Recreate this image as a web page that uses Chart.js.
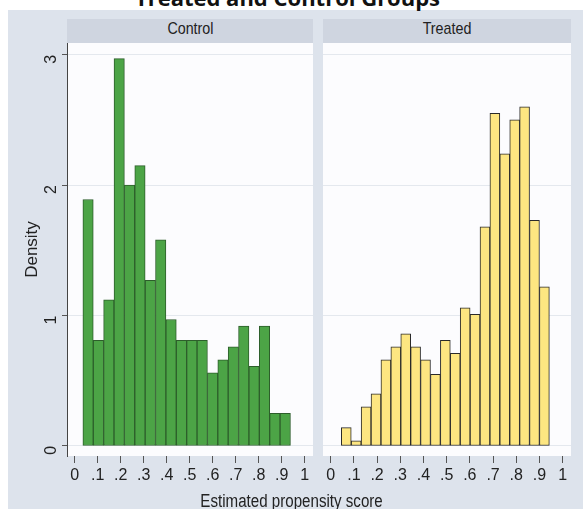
<!DOCTYPE html>
<html>
<head>
<meta charset="utf-8">
<script src="https://cdn.jsdelivr.net/npm/chart.js@4"></script>
<style>
  html, body { margin: 0; padding: 0; background: #ffffff; }
  #page { position: relative; width: 583px; height: 509px; overflow: hidden; }
  #bg { position: absolute; left: 8px; top: 10px; width: 575px; height: 499px; background: #dde3ec; }
  #title { position: absolute; left: 0; top: -18px; width: 575px; text-align: center;
           font: bold 22px "Open Sans", "Liberation Sans", sans-serif; color: #111; }
  .strip { position: absolute; top: 19px; height: 24px; line-height: 24px; background: #cfd5e0;
           text-align: center; font: 17px "Liberation Sans", sans-serif; color: #222; }
  .strip span, #xtitle span { display: inline-block; transform: scaleX(0.84); }
  canvas { position: absolute; top: 43px; }
  #xtitle { position: absolute; left: 0; width: 583px; top: 491px; text-align: center;
            font: 18px "Liberation Sans", sans-serif; color: #222; }
</style>
</head>
<body>
<div id="page">
  <div id="bg"></div>
  <div id="title">Treated and Control Groups</div>
  <div class="strip" id="stripCtl" style="left:67px;width:246px;"><span>Control</span></div>
  <div class="strip" id="stripTrt" style="left:323px;width:248px;"><span>Treated</span></div>
  <canvas id="ctl" width="318" height="460" style="left:0px;"></canvas>
  <canvas id="trt" width="265" height="460" style="left:318px;"></canvas>
  <div id="xtitle"><span>Estimated propensity score</span></div>
</div>
<script>
/* ---------------- DATA ---------------- */
// histogram bins: first edge + width, one height (density) per bin
const CONTROL_BIN_START = 0.036;
const CONTROL_BIN_WIDTH = 0.0451;
const controlDensity = [1.89, 0.81, 1.12, 2.97, 2.00, 2.15, 1.27, 1.58, 0.97, 0.81,
                        0.81, 0.81, 0.56, 0.66, 0.76, 0.92, 0.61, 0.92, 0.25, 0.25];

const TREATED_BIN_START = 0.046;
const TREATED_BIN_WIDTH = 0.0427;
const treatedDensity = [0.14, 0.04, 0.30, 0.40, 0.66, 0.76, 0.86, 0.76, 0.66, 0.55, 0.81,
                        0.71, 1.06, 1.01, 1.68, 2.55, 2.24, 2.50, 2.60, 1.73, 1.22];

const xTicks = [0, 0.1, 0.2, 0.3, 0.4, 0.5, 0.6, 0.7, 0.8, 0.9, 1];
const xTickLabels = ["0", ".1", ".2", ".3", ".4", ".5", ".6", ".7", ".8", ".9", "1"];
const yTicks = [0, 1, 2, 3];
const yTickLabels = ["0", "1", "2", "3"];
/* -------------------------------------- */

const X_MIN = -0.033, X_MAX = 1.036;
const Y_MIN = -0.077, Y_MAX = 3.09;
const FONT = { family: '"Liberation Sans", sans-serif', size: 16 };
const TEXT = '#222';

Chart.defaults.animation = false;

function binPoints(start, width, heights){
    return heights.map((h, i) => ({ x: start + (i + 0.5) * width, y: h }));
}

// keep the plot box fixed: no extra room for overhanging tick labels
function noPad(s){
    s.paddingLeft = 0; s.paddingRight = 0; s.paddingTop = 0; s.paddingBottom = 0;
}

// white plot region behind the bars
const plotBg = {
    id: 'plotBg',
    beforeDraw(chart){
        const a = chart.chartArea, ctx = chart.ctx;
        ctx.save();
        ctx.fillStyle = '#fcfcfe';
        ctx.fillRect(a.left, a.top, a.right - a.left, a.bottom - a.top);
        ctx.restore();
    }
};

function makeHist(canvasId, points, fill, border, showY, padLeft, padRight){
    return new Chart(document.getElementById(canvasId), {
        type: 'bar',
        data: {
            datasets: [{
                data: points,
                backgroundColor: fill,
                borderColor: border,
                borderWidth: 1,
                borderSkipped: false,
                barPercentage: 1,
                categoryPercentage: 1,
                grouped: false
            }]
        },
        options: {
            responsive: false,
            devicePixelRatio: 1,
            layout: { padding: { left: padLeft, right: padRight, top: 0, bottom: 0 } },
            plugins: { legend: { display: false }, tooltip: { enabled: false } },
            scales: {
                x: {
                    type: 'linear',
                    offset: false,
                    min: X_MIN, max: X_MAX,
                    afterBuildTicks: s => { s.ticks = xTicks.map(v => ({ value: v })); },
                    afterFit: s => { s.height = 47; noPad(s); },
                    grid: { display: true, offset: false, drawOnChartArea: false, drawTicks: true,
                            tickLength: 7, tickColor: '#555', tickWidth: 1 },
                    border: { display: false },
                    ticks: {
                        color: TEXT, font: FONT, padding: 3, maxRotation: 0, autoSkip: false,
                        callback: v => xTickLabels[xTicks.indexOf(v)] ?? ''
                    }
                },
                y: {
                    display: true,
                    min: Y_MIN, max: Y_MAX,
                    afterBuildTicks: s => { s.ticks = yTicks.map(v => ({ value: v })); },
                    afterFit: s => { s.width = showY ? 67 : 0; noPad(s); },
                    grid: { color: '#e4e8ee', lineWidth: 1, drawTicks: showY,
                            tickLength: 5, tickColor: '#555' },
                    border: { display: showY, color: '#444', width: 1 },
                    ticks: {
                        display: showY, color: TEXT, font: FONT, padding: 10,
                        minRotation: 90, maxRotation: 90,
                        callback: v => yTickLabels[yTicks.indexOf(v)] ?? ''
                    },
                    title: {
                        display: showY, text: 'Density', color: TEXT,
                        font: { family: FONT.family, size: 17 },
                        padding: { top: 22, bottom: 0 }
                    }
                }
            }
        },
        plugins: [plotBg]
    });
}

makeHist('ctl', binPoints(CONTROL_BIN_START, CONTROL_BIN_WIDTH, controlDensity),
         '#4ca446', '#2d5e2b', true, 0, 5);
makeHist('trt', binPoints(TREATED_BIN_START, TREATED_BIN_WIDTH, treatedDensity),
         '#fde681', '#2a2a2a', false, 5, 12);
</script>
</body>
</html>
